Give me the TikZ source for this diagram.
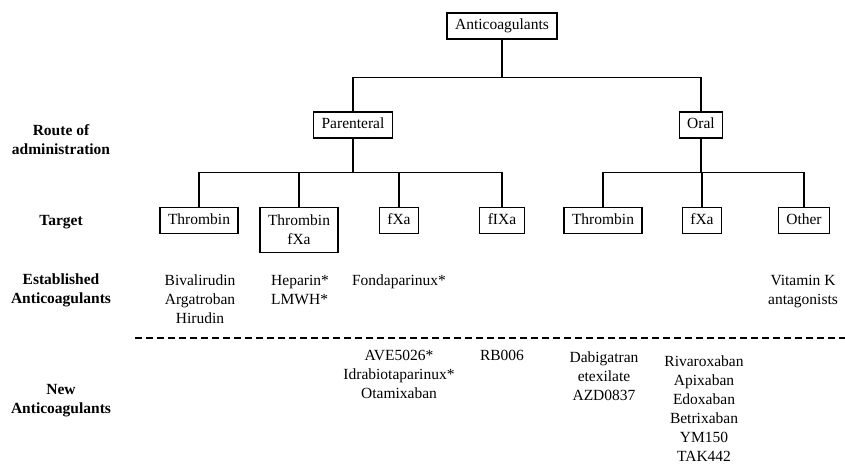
\documentclass[tikz,border=0pt]{standalone}
\usepackage{fontspec}
\setmainfont{Liberation Serif}
\usetikzlibrary{positioning,calc}

\tikzset{
  box/.style={draw, line width=1.2pt, inner xsep=8pt, inner ysep=5.75pt,
    text height=11pt, text depth=3.5pt, minimum height=26pt},
  boxtwo/.style={draw, line width=1.2pt, inner xsep=8pt, align=center, minimum height=45pt},
  rowlbl/.style={font=\fontsize{15.5}{19}\selectfont\bfseries, align=center, anchor=north, inner sep=0pt},
  drug/.style={align=center, anchor=north, inner sep=0pt},
  link/.style={line width=1.1pt}
}

\begin{document}
\begin{tikzpicture}[x=1pt, y=-1pt, font=\fontsize{15.5}{19}\selectfont]
\useasboundingbox (0,0) rectangle (845,464);

% tree
\node[box] (anti) at (502,26) {Anticoagulants};
\node[box] (par) at (353,125) {Parenteral};
\node[box] (oral) at (701,125) {Oral};
\node[box, anchor=north] (tThr) at (199,207) {Thrombin};
\node[boxtwo, anchor=north] (tThrXa) at (299,207) {Thrombin\\fXa};
\node[box, anchor=north] (tXa) at (399,207) {fXa};
\node[box, anchor=north] (tIXa) at (502,207) {fIXa};
\node[box, anchor=north] (oThr) at (603,207) {Thrombin};
\node[box, anchor=north] (oXa) at (702,207) {fXa};
\node[box, anchor=north] (oOth) at (804,207) {Other};

\draw[link] (anti.south) -- ++(0,38) -| (par.north);
\draw[link] (anti.south) -- ++(0,38) -| (oral.north);
\foreach \t in {tThr,tThrXa,tXa,tIXa}
  \draw[link] (par.south) -- ++(0,34) -| (\t.north);
\foreach \t in {oThr,oXa,oOth}
  \draw[link] (oral.south) -- ++(0,34) -| (\t.north);

% row labels
\node[rowlbl] (lRoute) at (61,124) {Route of\\administration};
\node[rowlbl] (lTarget) at (61,215) {Target};
\node[rowlbl] (lEst) at (61,274) {Established\\Anticoagulants};
\node[rowlbl] (lNew) at (61,384) {New\\Anticoagulants};

% established drugs
\node[drug] (eThr) at (200,275) {Bivalirudin\\Argatroban\\Hirudin};
\node[drug, anchor=north west, align=left] (eThrXa) at (271,275) {Heparin*\\LMWH*};
\node[drug] (eXa) at (399,275) {Fondaparinux*};
\node[drug] (eOth) at (803,275) {Vitamin K\\antagonists};

\coordinate (dashL) at (135,338);
\coordinate (dashR) at (845,338);
\draw[line width=1.2pt, dash pattern=on 7pt off 4pt] (dashL) -- (dashR);

% new drugs
\node[drug] (nXa) at (399,350) {AVE5026*\\Idrabiotaparinux*\\Otamixaban};
\node[drug] (nIXa) at (502,350) {RB006};
\node[drug] (nThr) at (604,352) {Dabigatran\\etexilate\\AZD0837};
\node[drug] (noXa) at (704,356) {Rivaroxaban\\Apixaban\\Edoxaban\\Betrixaban\\YM150\\TAK442};
\end{tikzpicture}
\end{document}
